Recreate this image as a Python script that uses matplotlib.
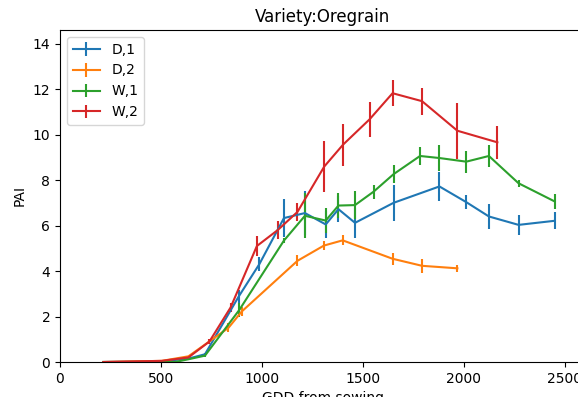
import numpy as np
from matplotlib import pyplot as plt

# D,1
d1_gdd = [215, 504, 636, 718, 885, 987, 1109, 1213, 1316, 1379, 1461, 1652, 1879, 2012, 2124, 2271, 2450]
d1_pai = [0.0, 0.03, 0.15, 0.34, 2.88, 4.3, 6.33, 6.55, 6.05, 6.72, 6.12, 7.0, 7.72, 7.03, 6.4, 6.03, 6.21]
d1_err = [0.0, 0.0, 0.02, 0.05, 0.3, 0.3, 0.84, 0.97, 0.6, 0.56, 0.66, 0.8, 0.65, 0.3, 0.57, 0.43, 0.37]

# D,2
d2_gdd = [215, 504, 636, 834, 900, 1176, 1307, 1400, 1647, 1793, 1968]
d2_pai = [0.0, 0.05, 0.25, 1.5, 2.22, 4.45, 5.12, 5.35, 4.54, 4.23, 4.12]
d2_err = [0.0, 0.0, 0.02, 0.2, 0.2, 0.25, 0.2, 0.22, 0.27, 0.3, 0.15]

# W,1
w1_gdd = [215, 570, 636, 718, 888, 1109, 1213, 1316, 1379, 1461, 1553, 1652, 1783, 1879, 2012, 2124, 2271, 2450]
w1_pai = [0.0, 0.0, 0.12, 0.28, 2.29, 5.34, 6.43, 6.22, 6.88, 6.9, 7.49, 8.26, 9.06, 8.97, 8.81, 9.06, 7.86, 7.06]
w1_err = [0.0, 0.0, 0.02, 0.05, 0.3, 0.1, 0.99, 0.56, 0.54, 0.6, 0.3, 0.39, 0.41, 0.57, 0.49, 0.5, 0.15, 0.33]

# W,2
w2_gdd = [215, 504, 636, 740, 845, 975, 1078, 1176, 1309, 1402, 1533, 1647, 1793, 1968, 2166]
w2_pai = [0.0, 0.05, 0.2, 0.9, 2.4, 5.1, 5.8, 6.6, 8.6, 9.56, 10.67, 11.82, 11.47, 10.17, 9.66]
w2_err = [0.0, 0.0, 0.02, 0.1, 0.2, 0.45, 0.4, 0.4, 1.13, 0.92, 0.76, 0.57, 0.6, 1.23, 0.72]

series = [("D,1", d1_gdd, d1_pai, d1_err),
          ("D,2", d2_gdd, d2_pai, d2_err),
          ("W,1", w1_gdd, w1_pai, w1_err),
          ("W,2", w2_gdd, w2_pai, w2_err)]

fig = plt.figure(figsize=(5.78, 3.97), dpi=100)
ax = fig.add_axes([60/578, 35/397, 525/578, 332/397])

for ii, (name, x, y, e) in enumerate(series):
    ax.errorbar(x, y, yerr=e, c=f"C{ii}", label=name)

ax.set_xlim(0, 2600)
ax.set_ylim(0, 14.6)
ax.set_yticks(np.arange(0, 15, 2))
ax.set_xlabel("GDD from sowing")
ax.set_ylabel("PAI")
ax.set_title("Variety:Oregrain")
ax.legend(loc="upper left")

fig.savefig("out.png", dpi=100)
